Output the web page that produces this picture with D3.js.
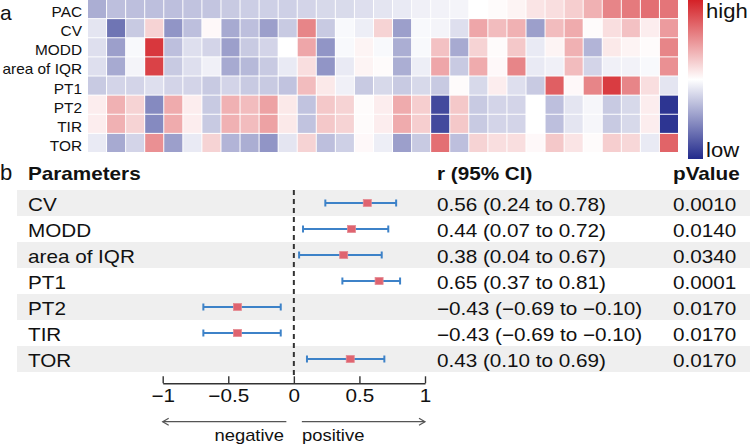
<!DOCTYPE html>
<html>
<head>
<meta charset="utf-8">
<script src="https://cdn.jsdelivr.net/npm/d3@7"></script>
<style>
  html, body { margin: 0; padding: 0; background: #ffffff; }
  svg { display: block; font-family: "Liberation Sans", Arial, Helvetica, sans-serif; }
</style>
</head>
<body>
<svg id="chart" width="750" height="448"></svg>
<script>
// ---------------- DATA ----------------
const heatRowNames = ["PAC", "CV", "MODD", "area of IQR", "PT1", "PT2", "TIR", "TOR"];
const PAC  = [-0.38,-0.3,-0.3,-0.3,-0.3,-0.28,-0.27,-0.25,-0.23,-0.22,-0.22,-0.2,-0.18,-0.17,-0.15,-0.12,-0.1,-0.07,-0.06,-0.05,0.0,0.02,0.05,0.12,0.15,0.22,0.35,0.55,0.6,0.65,0.62];
const CV   = [-0.12,-0.65,-0.25,0.2,-0.5,-0.3,0.03,-0.4,-0.3,-0.45,-0.25,0.55,-0.25,-0.03,-0.08,0.2,-0.45,-0.03,-0.05,-0.15,0.4,0.3,0.35,-0.45,0.3,0.38,0.02,0.15,0.28,0.08,0.45];
const MODD = [-0.15,-0.45,-0.03,0.9,-0.3,-0.15,-0.2,-0.45,-0.25,-0.2,0.0,0.4,-0.5,-0.03,0.05,-0.03,-0.38,-0.03,0.28,-0.4,0.2,0.02,0.25,-0.1,0.05,0.35,-0.35,0.1,0.05,0.02,0.55];
const IQR  = [-0.15,-0.4,-0.05,0.85,-0.25,-0.15,-0.07,-0.4,-0.33,-0.25,-0.1,0.15,-0.5,-0.1,0.05,0.02,-0.38,-0.08,0.4,-0.25,0.38,0.03,0.55,-0.1,-0.07,0.3,-0.2,-0.07,-0.06,-0.03,0.5];
const PT1  = [-0.25,-0.2,-0.2,-0.15,-0.2,-0.2,-0.25,-0.2,-0.25,-0.25,-0.28,0.3,0.1,-0.07,-0.25,-0.18,-0.25,-0.18,-0.25,0.02,-0.18,0.08,-0.15,-0.25,0.72,0.03,0.55,0.88,0.55,0.15,-0.12];
const PT2  = [0.08,0.35,0.2,-0.55,0.38,0.08,-0.25,0.35,0.3,0.42,0.1,-0.28,0.25,0.2,0.02,0.08,0.38,0.22,-0.85,0.25,-0.25,-0.2,-0.2,0.0,-0.3,-0.12,-0.04,-0.25,-0.18,0.08,-0.95];
const TIR  = [0.08,0.35,0.2,-0.55,0.38,0.08,-0.25,0.35,0.3,0.42,0.1,-0.28,0.25,0.2,0.02,0.08,0.38,0.22,-0.85,0.25,-0.25,-0.2,-0.2,0.0,-0.3,-0.12,-0.04,-0.25,-0.18,0.08,-0.95];
const TOR  = [-0.1,-0.4,-0.2,0.5,-0.45,-0.1,0.2,-0.35,-0.38,-0.5,-0.12,0.2,-0.3,-0.22,0.03,-0.08,-0.45,-0.25,0.65,-0.3,0.2,0.15,0.15,0.03,0.25,0.12,0.02,0.22,0.18,-0.1,0.7];
const heatRows = [PAC, CV, MODD, IQR, PT1, PT2, TIR, TOR];

const params  = ["CV", "MODD", "area of IQR", "PT1", "PT2", "TIR", "TOR"];
const rVals   = [0.56, 0.44, 0.38, 0.65, -0.43, -0.43, 0.43];
const ciLow   = [0.24, 0.07, 0.04, 0.37, -0.69, -0.69, 0.10];
const ciHigh  = [0.78, 0.72, 0.67, 0.81, -0.10, -0.10, 0.69];
const pVals   = ["0.0010", "0.0140", "0.0340", "0.0001", "0.0170", "0.0170", "0.0170"];
const tickValues = [-1, -0.5, 0, 0.5, 1];
const tickLabels = ["\u22121", "\u22120.5", "0", "0.5", "1"];

// ---------------- HELPERS ----------------
const svg = d3.select("#chart");
svg.append("rect").attr("width", 750).attr("height", 448).attr("fill", "#ffffff");

function txt(sel, x, y, s, o) {
  o = o || {};
  return sel.append("text")
    .attr("transform", `translate(${x},${y}) scale(${o.sx || 1},1)`)
    .attr("text-anchor", o.anchor || "start")
    .style("font-size", (o.size || 14) + "px")
    .style("font-weight", o.bold ? "bold" : "normal")
    .attr("fill", o.fill || "#111")
    .text(s);
}

// ---------------- PANEL A: HEATMAP ----------------
const nCols = PAC.length;
const xH = d3.scaleBand().domain(d3.range(nCols)).range([87.5, 678.5]);
const yH = d3.scaleBand().domain(heatRowNames).range([-0.5, 152.5]);
const color = d3.scaleLinear().domain([-1, 0, 1]).range(["#222a8c", "#ffffff", "#d42127"]);

const gH = svg.append("g");
heatRowNames.forEach((name, i) => {
  gH.selectAll(null).data(heatRows[i]).enter().append("rect")
    .attr("x", (d, j) => xH(j) + 0.5)
    .attr("y", yH(name) + 0.5)
    .attr("width", xH.bandwidth() - 1)
    .attr("height", yH.bandwidth() - 1)
    .attr("fill", d => color(d));
  txt(gH, 82, yH(name) + yH.bandwidth() / 2 + 8, name, {anchor: "end", size: 14, sx: 1.1});
});

// colour bar
const defs = svg.append("defs");
const grad = defs.append("linearGradient").attr("id", "cbar").attr("x1", 0).attr("x2", 0).attr("y1", 0).attr("y2", 1);
[[0, 1], [0.5, 0], [1, -1]].forEach(([o, v]) => grad.append("stop").attr("offset", o).attr("stop-color", color(v)));
svg.append("rect").attr("x", 688).attr("y", 0).attr("width", 15).attr("height", 159).attr("fill", "url(#cbar)");
txt(svg, 706, 18, "high", {size: 21, sx: 1.05});
txt(svg, 706, 157, "low", {size: 21, sx: 1.05});

txt(svg, 0, 20, "a", {size: 21});
txt(svg, 0, 180, "b", {size: 22});

// ---------------- PANEL B: FOREST ----------------
const SX = 1.15;
const xF = d3.scaleLinear().domain([-1, 1]).range([162.7, 425]);
const yF = d3.scaleBand().domain(params).range([190, 372]);
const gF = svg.append("g");

// bands
params.forEach((p, i) => {
  if (i % 2 === 0) {
    gF.append("rect").attr("x", 17).attr("y", yF(p)).attr("width", 750 - 17).attr("height", yF.bandwidth()).attr("fill", "#efefef");
  }
});

// header
txt(gF, 28, 180, "Parameters", {size: 18, bold: true, sx: 1.15});
txt(gF, 437, 180, "r (95% CI)", {size: 18, bold: true, sx: 1.15});
txt(gF, 673, 180, "pValue", {size: 18, bold: true, sx: 1.15});

// zero line
gF.append("line").attr("x1", xF(0)).attr("x2", xF(0)).attr("y1", 190).attr("y2", 376)
  .attr("stroke", "#333").attr("stroke-width", 2).attr("stroke-dasharray", "5,4");

const fmt = v => (v < 0 ? "\u2212" : "") + Math.abs(v).toFixed(2);

params.forEach((p, i) => {
  const cy = yF(p) + yF.bandwidth() / 2;
  txt(gF, 28, cy + 7.5, p, {size: 18, sx: SX});
  txt(gF, 437, cy + 7.5, `${fmt(rVals[i])} (${fmt(ciLow[i])} to ${fmt(ciHigh[i])})`, {size: 18, sx: SX});
  txt(gF, 673, cy + 7.5, pVals[i], {size: 18, sx: SX});
  // CI
  gF.append("line").attr("x1", xF(ciLow[i])).attr("x2", xF(ciHigh[i])).attr("y1", cy).attr("y2", cy)
    .attr("stroke", "#3d82c8").attr("stroke-width", 2);
  [ciLow[i], ciHigh[i]].forEach(v => {
    gF.append("line").attr("x1", xF(v)).attr("x2", xF(v)).attr("y1", cy - 3.5).attr("y2", cy + 3.5)
      .attr("stroke", "#3d82c8").attr("stroke-width", 2);
  });
  gF.append("rect").attr("x", xF(rVals[i]) - 4).attr("y", cy - 3.5).attr("width", 8).attr("height", 7)
    .attr("fill", "#df6470").attr("stroke", "#e58a92").attr("stroke-width", 0.8);
});

// axis
const axis = d3.axisBottom(xF).tickValues(tickValues).tickFormat((d, i) => tickLabels[i])
  .tickSize(-7).tickSizeOuter(0).tickPadding(6);
const gA = svg.append("g").attr("transform", "translate(0,383.3)").call(axis);
gA.select(".domain").attr("stroke", "#333").attr("stroke-width", 1.4);
gA.selectAll(".tick line").attr("stroke", "#333").attr("stroke-width", 1.4);
gA.selectAll(".tick text").attr("fill", "#111").style("font-size", "18px")
  .style("font-family", "'Liberation Sans', Arial, sans-serif")
  .attr("transform", `scale(${SX},1)`);

// direction arrows
const ay = 421.7;
function arrow(x1, x2) {
  const dir = x2 > x1 ? 1 : -1;
  gF.append("line").attr("x1", x1).attr("x2", x2).attr("y1", ay).attr("y2", ay).attr("stroke", "#555").attr("stroke-width", 1.2);
  gF.append("path").attr("d", `M${x2 - dir * 6},${ay - 3.5}L${x2},${ay}L${x2 - dir * 6},${ay + 3.5}`)
    .attr("fill", "none").attr("stroke", "#555").attr("stroke-width", 1.2);
}
arrow(xF(0) - 7.5, xF(-1));
arrow(xF(0) + 8, xF(1));
txt(gF, 284, 441, "negative", {anchor: "end", size: 16, sx: SX});
txt(gF, 302, 441, "positive", {size: 16, sx: SX});
</script>
</body>
</html>
